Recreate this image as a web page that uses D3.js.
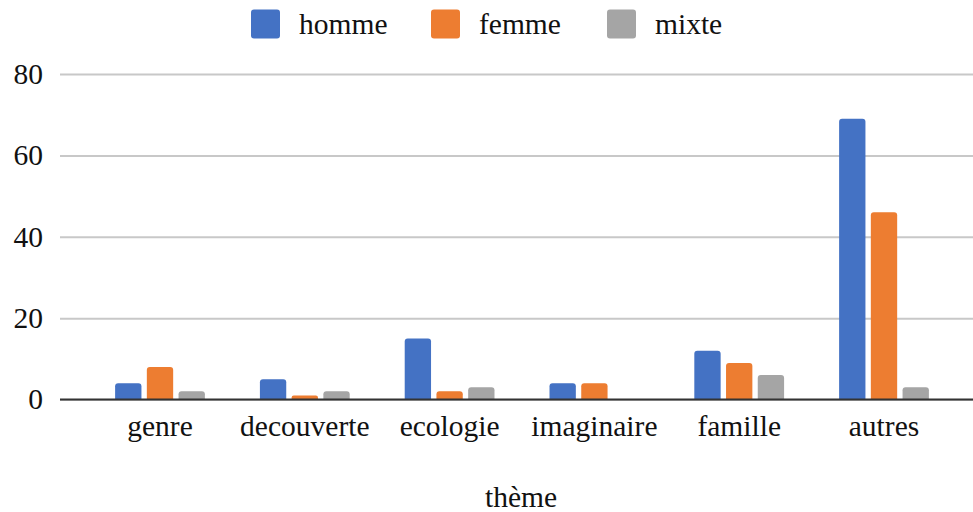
<!DOCTYPE html>
<html><head><meta charset="utf-8">
<script src="https://cdn.jsdelivr.net/npm/d3@7"></script>
<style>body{margin:0;background:#fff}svg{display:block}text{font-family:"Liberation Serif","Times New Roman",serif;fill:#111}</style>
</head><body>
<svg id="c" width="973" height="512"></svg>
<script>
const categories = ["genre","decouverte","ecologie","imaginaire","famille","autres"];
const seriesNames = ["homme","femme","mixte"];
const homme = [4,5,15,4,12,69];
const femme = [8,1,2,4,9,46];
const mixte = [2,2,3,0,6,3];
const yTicks = [0,20,40,60,80];
const colors = ["#4472c4","#ed7d31","#a5a5a5"];
const values = [homme, femme, mixte];
const FS = 29.5;

const svg = d3.select("#c");
const x = d3.scaleBand().domain(categories).range([87.6, 956.4]).paddingInner(0.38).paddingOuter(0.19);
const xs = d3.scaleBand().domain(seriesNames).range([0, x.bandwidth()]).paddingInner(0.17);
const y = d3.scaleLinear().domain([0,80]).range([399.5, 74]);

const yAxis = svg.append("g").attr("transform","translate(60,0)")
  .call(d3.axisLeft(y).tickValues(yTicks).tickSize(-913).tickPadding(17).tickFormat(d3.format("d")));
yAxis.select(".domain").remove();
yAxis.selectAll(".tick line").attr("stroke","#c8c8c8").attr("stroke-width",2);
yAxis.selectAll(".tick text").attr("font-size",FS).style("font-family","Liberation Serif").attr("fill","#111");

const g = svg.append("g");
categories.forEach((c,i)=>{
  seriesNames.forEach((s,j)=>{
    const v = values[j][i];
    if (v<=0) return;
    const h = y(0)-y(v);
    const bx = x(c)+xs(s), bw = xs.bandwidth();
    const r = Math.min(3, h/2);
    g.append("path").attr("fill",colors[j])
      .attr("d",`M${bx},${y(0)}V${y(v)+r}Q${bx},${y(v)} ${bx+r},${y(v)}H${bx+bw-r}Q${bx+bw},${y(v)} ${bx+bw},${y(v)+r}V${y(0)}Z`);
  });
});

svg.append("line").attr("x1",60).attr("x2",973).attr("y1",y(0)).attr("y2",y(0)).attr("stroke","#333").attr("stroke-width",2.2);

const xAxis = svg.append("g").attr("transform",`translate(0,${y(0)})`)
  .call(d3.axisBottom(x).tickSize(0).tickPadding(16));
xAxis.select(".domain").remove();
xAxis.selectAll(".tick text").attr("font-size",FS).style("font-family","Liberation Serif").attr("fill","#111");

svg.append("text").attr("x",521).attr("y",507).attr("text-anchor","middle").attr("font-size",FS).text("thème");

const legX = [251, 431, 607];
seriesNames.forEach((s,j)=>{
  svg.append("rect").attr("x",legX[j]).attr("y",9.5).attr("width",29).attr("height",29).attr("rx",3).attr("fill",colors[j]);
  svg.append("text").attr("x",legX[j]+48).attr("y",34).attr("font-size",FS).text(s);
});
</script>
</body></html>
